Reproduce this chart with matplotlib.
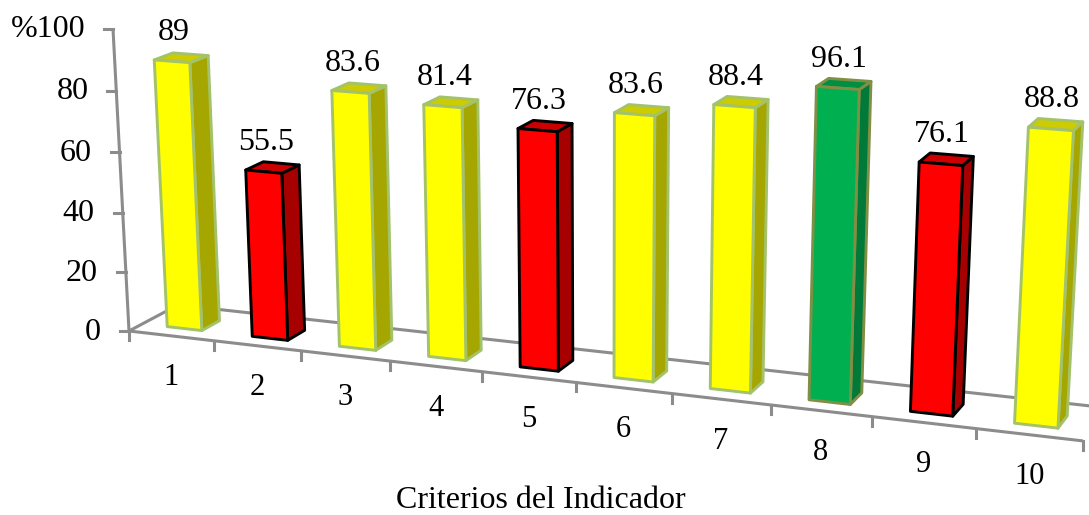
import numpy as np
import matplotlib
matplotlib.use("Agg")
import matplotlib.pyplot as plt
from matplotlib.patches import Polygon

plt.rcParams["font.family"] = ["Liberation Serif", "DejaVu Serif"]

categories = ["1", "2", "3", "4", "5", "6", "7", "8", "9", "10"]
values = [89, 55.5, 83.6, 81.4, 76.3, 83.6, 88.4, 96.1, 76.1, 88.8]
bar_colors = ["y", "r", "y", "y", "r", "y", "y", "g", "r", "y"]
yticks = [0, 20, 40, 60, 80, 100]
ytick_labels = ["0", "20", "40", "60", "80", "%100"]

# front, side, top, edge
palette = {
    "y": ("#FFFF00", "#A6A600", "#CCCC00", "#A3C26A"),
    "r": ("#FF0000", "#A60000", "#CC0000", "#000000"),
    "g": ("#00B050", "#007A38", "#008F41", "#7F8F45"),
}

# perspective camera: c = category axis, v = value axis, d = depth of the floor
CAM_X = (129, 82.4, -0.197, 54.3)
CAM_Y = (331, 5.7, -3.03, -16.9)
CAM_W = (1, -0.012, -0.000328, 0.03)


def proj(c, v, d=0.0):
    w = np.dot(CAM_W, (1, c, v, d))
    return np.dot(CAM_X, (1, c, v, d)) / w, np.dot(CAM_Y, (1, c, v, d)) / w


def face(ax, corners, color, edge, z):
    pts = [proj(*p) for p in corners]
    ax.add_patch(Polygon(pts, closed=True, facecolor=color, edgecolor=edge,
                         linewidth=2.1, joinstyle="round", zorder=z))


fig = plt.figure(figsize=(10.89, 5.15), dpi=100)
ax = fig.add_axes([0, 0, 1, 1])
ax.set_xlim(0, 1089)
ax.set_ylim(515, 0)
ax.axis("off")

grey = "#8C8C8C"
n = len(categories)


def line(p0, p1, **kw):
    a, b = proj(*p0), proj(*p1)
    ax.plot([a[0], b[0]], [a[1], b[1]], color=grey, lw=2.2, solid_capstyle="butt", zorder=1, **kw)


# floor and axes
line((0, 0, 0), (n, 0, 0))
line((0, 0, 1), (n, 0, 1))
line((0, 0, 0), (0, 0, 1))
line((0, 0, 0), (0, 100, 0))

for t, lab in zip(yticks, ytick_labels):
    x, y = proj(0, t)
    ax.plot([x - 9, x], [y, y], color=grey, lw=2.2, zorder=1)
    ax.annotate(lab, (x, y), xytext=(-28, -1), textcoords="offset pixels",
                ha="right", va="center", fontsize=23, color="black")

for i in range(n + 1):
    x, y = proj(i, 0)
    ax.plot([x, x], [y, y + 9], color=grey, lw=2.2, zorder=1)

# bars, left to right
c_w = 0.41
d0, d1 = 0.27, 0.64
for i, (val, key) in enumerate(zip(values, bar_colors)):
    front, side, top, edge = palette[key]
    c0 = i + 0.5 - c_w / 2
    c1 = c0 + c_w
    z = 2 + i
    face(ax, [(c1, 0, d0), (c1, 0, d1), (c1, val, d1), (c1, val, d0)], side, edge, z)
    face(ax, [(c0, val, d0), (c1, val, d0), (c1, val, d1), (c0, val, d1)], top, edge, z)
    face(ax, [(c0, 0, d0), (c1, 0, d0), (c1, val, d0), (c0, val, d0)], front, edge, z)

    ax.annotate(f"{val:g}", proj(i + 0.5, val, 0.31), xytext=(0, 28), textcoords="offset pixels",
                ha="center", va="center", fontsize=23, color="black", zorder=20)
    ax.annotate(categories[i], proj(i + 0.5, 0, 0), xytext=(0, -42), textcoords="offset pixels",
                ha="center", va="center", fontsize=22, color="black")

ax.text(541, 508, "Criterios del Indicador", ha="center", va="baseline", fontsize=23, color="black")

fig.savefig("out.png", dpi=100)
